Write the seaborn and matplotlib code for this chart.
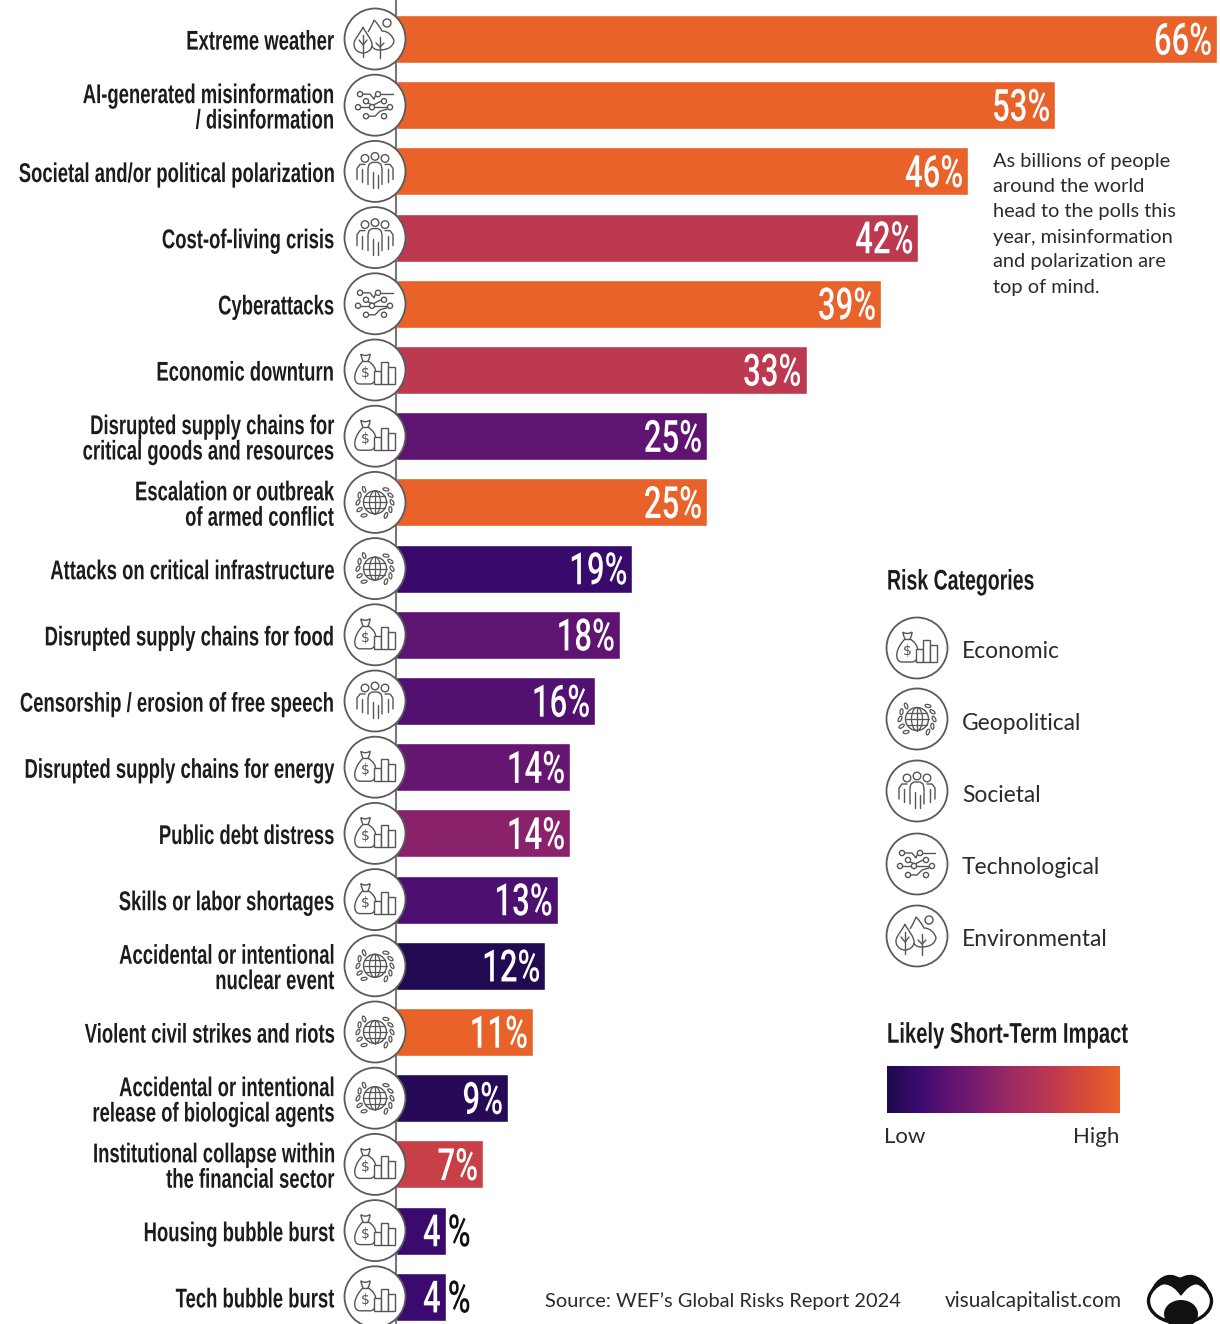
import matplotlib
matplotlib.use("Agg")
import matplotlib.pyplot as plt
import numpy as np
import pandas as pd
import seaborn as sns
from matplotlib.colors import LinearSegmentedColormap
from matplotlib.patches import Circle, Ellipse, PathPatch, Rectangle
from matplotlib.path import Path
from matplotlib.patheffects import AbstractPathEffect
from matplotlib.text import Text
from matplotlib.transforms import Affine2D, Bbox

risks = [
    "Extreme weather", "AI-generated misinformation\n/ disinformation",
    "Societal and/or political polarization", "Cost-of-living crisis", "Cyberattacks",
    "Economic downturn", "Disrupted supply chains for\ncritical goods and resources",
    "Escalation or outbreak\nof armed conflict", "Attacks on critical infrastructure",
    "Disrupted supply chains for food", "Censorship / erosion of free speech",
    "Disrupted supply chains for energy", "Public debt distress",
    "Skills or labor shortages", "Accidental or intentional\nnuclear event",
    "Violent civil strikes and riots", "Accidental or intentional\nrelease of biological agents",
    "Institutional collapse within\nthe financial sector", "Housing bubble burst",
    "Tech bubble burst",
]
shares = [66, 53, 46, 42, 39, 33, 25, 25, 19, 18, 16, 14, 14, 13, 12, 11, 9, 7, 4, 4]
impact = [1.0, 1.0, 1.0, 0.70, 1.0, 0.70, 0.27, 1.0, 0.12, 0.27, 0.22, 0.30, 0.45, 0.20,
          0.02, 1.0, 0.04, 0.76, 0.13, 0.13]
categories = ["Environmental", "Technological", "Societal", "Societal", "Technological",
              "Economic", "Economic", "Geopolitical", "Geopolitical", "Economic", "Societal",
              "Economic", "Economic", "Economic", "Geopolitical", "Geopolitical",
              "Geopolitical", "Economic", "Economic", "Economic"]
legend_categories = ["Economic", "Geopolitical", "Societal", "Technological", "Environmental"]
note_lines = ["As billions of people", "around the world", "head to the polls this",
              "year, misinformation", "and polarization are", "top of mind."]

W, H = 1220, 1324
HEAD = ["Liberation Sans", "DejaVu Sans"]
FIGURES = ["Roboto", "DejaVu Sans"]
BODY = ["Lato", "DejaVu Sans"]
INK = "#2b2b2b"
DARK = "#1c1c1c"
ICON = "#555555"

impact_cmap = LinearSegmentedColormap.from_list(
    "impact", [(0, "#1e0a4e"), (0.13, "#3a0a6e"), (0.25, "#5a1272"), (0.4, "#7d1d6e"),
               (0.55, "#a02c62"), (0.72, "#c03a4e"), (0.88, "#db4f33"), (1, "#e8622a")])

sns.set_theme(style="white")
plt.rcParams["font.family"] = HEAD


class TallGlyphs(AbstractPathEffect):
    """Stretches glyph outlines vertically around the text's anchor line."""

    def __init__(self, owner, stretch):
        super().__init__()
        self.owner = owner
        self.stretch = stretch

    def draw_path(self, renderer, gc, tpath, affine, rgbFace=None):
        y0 = self.owner.anchor_y()
        tall = affine + Affine2D().translate(0, -y0).scale(1, self.stretch).translate(0, y0)
        renderer.draw_path(gc, tpath, tall, rgbFace)


class CondensedText(Text):
    """Text with the tall, narrow proportions of a condensed cut."""

    def __init__(self, x, y, text, stretch, **kwargs):
        super().__init__(x, y, text, **kwargs)
        self.stretch = stretch
        self.set_path_effects([TallGlyphs(self, stretch)])

    def anchor_y(self):
        return self.get_transform().transform(self.get_position())[1]

    def get_window_extent(self, renderer=None, dpi=None):
        bb = super().get_window_extent(renderer, dpi)
        y0 = self.anchor_y()
        return Bbox.from_extents(bb.x0, y0 + (bb.y0 - y0) * self.stretch,
                                 bb.x1, y0 + (bb.y1 - y0) * self.stretch)


def condensed(axes, x, y, text, stretch, shift=(0, 0), **kwargs):
    t = CondensedText(x, y, text, stretch, **kwargs)
    t.set_transform(axes.transData + Affine2D().translate(*shift))
    axes.add_artist(t)
    t.set_clip_on(False)
    return t


fig = plt.figure(figsize=(W / 100, H / 100), dpi=100, facecolor="white")

# Bar axes: the zero line sits at x=396 and each percentage point spans 12.44 px.
ax = fig.add_axes([396 / W, 0, (W - 396) / W, 1])
df = pd.DataFrame({"risk": risks, "share": shares})
sns.barplot(data=df, y="risk", x="share", hue="risk", palette=[impact_cmap(v) for v in impact],
            width=0.725, saturation=1, legend=False, orient="h", ax=ax)
ax.set_xlim(0, (W - 396) / 12.44)
ax.set_ylim((H - 39) / 66.2, -39 / 66.2)
ax.set_xlabel("")
ax.set_ylabel("")
ax.xaxis.set_visible(False)
ax.set_facecolor("none")
for side in ("top", "right", "bottom"):
    ax.spines[side].set_visible(False)
ax.spines["left"].set_color("#777777")
ax.spines["left"].set_linewidth(1.5)
ax.tick_params(axis="y", length=0, labelleft=False)

# Category labels to the left of the badges.
for i, name in enumerate(risks):
    condensed(ax, 0, i, name, 1.47, shift=(-62, -4), ha="right", va="center", fontsize=13.3,
              fontweight="bold", color=DARK, linespacing=1.02)

# Value labels; the shortest bars keep the percent sign outside the bar.
label_style = dict(va="center", fontsize=22.4, fontweight="medium", family=FIGURES)
for i, v in enumerate(shares):
    if v < 5:
        condensed(ax, v, i, str(v), 1.43, shift=(-5, -3.5), ha="right", color="white", **label_style)
        condensed(ax, v, i, "%", 1.43, shift=(2, -3.5), ha="left", color="#111111", **label_style)
    else:
        condensed(ax, v, i, f"{v}%", 1.43, shift=(-5, -3.5), ha="right", color="white", **label_style)

# Overlay in pixel coordinates for badges, legend and annotations.
ov = fig.add_axes([0, 0, 1, 1], zorder=5)
ov.set_xlim(0, W)
ov.set_ylim(H, 0)
ov.axis("off")


def stroke(cx, cy, xs, ys, lw=1.0):
    ov.plot(np.asarray(xs) + cx, np.asarray(ys) + cy, color=ICON, lw=lw, solid_capstyle="round", zorder=8)


def ring(cx, cy, x, y, r, lw=1.0, fill="none"):
    ov.add_patch(Circle((cx + x, cy + y), r, fc=fill, ec=ICON, lw=lw, zorder=8))


def blob(cx, cy, verts, fill="white", lw=1.0):
    codes = [Path.MOVETO] + [Path.CURVE4] * (len(verts) - 1)
    pts = [(cx + a, cy + b) for a, b in verts]
    ov.add_patch(PathPatch(Path(pts, codes), fc=fill, ec=ICON, lw=lw, zorder=8))


def economic(cx, cy):
    blob(cx, cy, [(-14, -16), (-12, -14), (-8, -14), (-5, -16), (-5, -13), (-6, -11), (-7, -9),
                  (-2, -6), (1, -2), (1, 4), (1, 10), (-1, 14), (-5, 14), (-10, 14), (-13, 14),
                  (-15, 14), (-19, 14), (-21, 10), (-20, 5), (-19, -1), (-15, -6), (-12, -9),
                  (-13, -11), (-14, -14), (-14, -16)])
    stroke(cx, cy, [-12, -7], [-9, -9])
    ov.text(cx - 10, cy + 3, "$", fontsize=10, color=ICON, ha="center", va="center",
            family=["DejaVu Sans"], zorder=9)
    for x0, top in ((-1, 1), (6, -8), (13, -3)):
        ov.add_patch(Rectangle((cx + x0, cy + top), 6.5, 14 - top, fc="white", ec=ICON, lw=1.0, zorder=8))


def geopolitical(cx, cy):
    ring(cx, cy, 0, 0, 11.5)
    ov.add_patch(Ellipse((cx, cy), 11, 23, fc="none", ec=ICON, lw=0.9, zorder=8))
    stroke(cx, cy, [0, 0], [-11.5, 11.5], 0.9)
    for yy, half in ((-6, 9.8), (0, 11.5), (6, 9.8)):
        stroke(cx, cy, [-half, half], [yy, yy], 0.9)
    for sign in (-1, 1):
        for ang in np.deg2rad([-50, -25, 0, 25, 50]):
            px, py = sign * 17 * np.cos(ang), 17 * np.sin(ang)
            ov.add_patch(Ellipse((cx + px, cy + py), 6, 3, angle=np.rad2deg(ang) + sign * 60,
                                 fc="none", ec=ICON, lw=0.9, zorder=8))


def societal(cx, cy):
    for x, y in ((-10, -13), (0, -15), (10, -13)):
        ring(cx, cy, x, y, 3.8)
    stroke(cx, cy, [-7, -7, -6, -3, 3, 6, 7, 7], [13, -3, -7, -9, -9, -7, -3, 13])
    stroke(cx, cy, [-18, -18, -15, -10], [8, -3, -7, -7])
    stroke(cx, cy, [18, 18, 15, 10], [8, -3, -7, -7])
    stroke(cx, cy, [-13, -13], [-2, 11])
    stroke(cx, cy, [13, 13], [-2, 11])
    stroke(cx, cy, [-2.5, -2.5], [1, 17])
    stroke(cx, cy, [2.5, 2.5], [4, 17])


def technological(cx, cy):
    nodes = [(-15, -11), (3, -11), (-9, -4), (9, -4), (-17, 2), (-3, 2), (15, 2), (-9, 11), (9, 11)]
    stroke(cx, cy, [-12, -5, -1, 1], [-11, -11, -6, -11])
    stroke(cx, cy, [6, 18], [-11, -11])
    stroke(cx, cy, [-14, -6, 0, 12], [2, 2, 2, 2])
    stroke(cx, cy, [-6, 0, 5, 12], [11, 11, 6, 4])
    stroke(cx, cy, [-7, -2, 6], [-2, 0, -4])
    for x, y in nodes:
        ring(cx, cy, x, y, 2.6, fill="white")


def environmental(cx, cy):
    blob(cx, cy, [(-7, -7), (-4, -12), (-2, -16), (-1, -19), (2, -16), (5, -12), (7, -8), (13, -8), (18, -3),
                  (19, 2), (18, 7), (14, 11), (4, 11), (0, 11), (-3, 9), (-4, 5)], fill="none")
    blob(cx, cy, [(-12, -12), (-9, -5), (-3, 0), (-3, 6), (-3, 11), (-8, 14), (-12, 14), (-16, 14), (-21, 11),
                  (-21, 5), (-21, 0), (-15, -5), (-12, -12)])
    ring(cx, cy, 12, -16, 4)
    stroke(cx, cy, [-12, -12], [-4, 18])
    stroke(cx, cy, [-16, -12, -8], [1, 6, 1])
    stroke(cx, cy, [5, 5], [-2, 19])
    stroke(cx, cy, [1, 5, 9], [4, 8, 4])


ICONS = {"Economic": economic, "Geopolitical": geopolitical, "Societal": societal,
         "Technological": technological, "Environmental": environmental}


def badge(name, cx, cy):
    ov.add_patch(Circle((cx, cy), 30.5, fc="white", ec="#5a5a5a", lw=1.3, zorder=7))
    ICONS[name](cx, cy)


for i, name in enumerate(categories):
    badge(name, 375, 39 + 66.2 * i)

# Annotation beside the top bars.
for i, line in enumerate(note_lines):
    ov.text(993, 162 + 25 * i, line, fontsize=14.4, color=INK, va="center", family=BODY)

# Risk category legend.
condensed(ov, 887, 583, "Risk Categories", 1.46, ha="left", va="center", fontsize=14.04,
          fontweight="bold", color=DARK)
for name, y in zip(legend_categories, (648, 719, 791, 864, 936)):
    badge(name, 917, y)
    ov.text(962, y + 4, name, fontsize=16.4, color=INK, va="center", family=BODY)

# Impact scale.
condensed(ov, 887, 1035, "Likely Short-Term Impact", 1.41, ha="left", va="center", fontsize=14.55,
          fontweight="bold", color=DARK)
ramp = np.linspace(0, 1, 256).reshape(1, -1)
ov.imshow(ramp, cmap=impact_cmap, extent=(887, 1120, 1113, 1066), aspect="auto", zorder=3)
ov.set_xlim(0, W)
ov.set_ylim(H, 0)
ov.text(884, 1137, "Low", fontsize=16, color=INK, va="center", family=BODY)
ov.text(1119, 1137, "High", fontsize=16, color=INK, va="center", ha="right", family=BODY)

# Footer.
ov.text(545, 1301, "Source: WEF\u2019s Global Risks Report 2024", fontsize=14.4, color=INK, va="center", family=BODY)
ov.text(945, 1301, "visualcapitalist.com", fontsize=15, color=INK, va="center", family=BODY)

# Publisher mark, cut off by the lower edge.
ov.add_patch(Ellipse((1180, 1301), 63, 44, fc="white", ec="#111111", lw=2.4, zorder=6))
ov.add_patch(PathPatch(Path(
    [(1152, 1290), (1156, 1280), (1168, 1270), (1180, 1279), (1192, 1270), (1205, 1280), (1208, 1290),
     (1200, 1280), (1190, 1282), (1181, 1295), (1172, 1282), (1160, 1280), (1152, 1290)],
    [Path.MOVETO] + [Path.CURVE4] * 12), fc="#111111", ec="#111111", lw=1, zorder=7))
ov.add_patch(Ellipse((1181, 1314), 34, 28, fc="#111111", ec="none", zorder=7))

fig.savefig("out.png", dpi=100, facecolor="white")
